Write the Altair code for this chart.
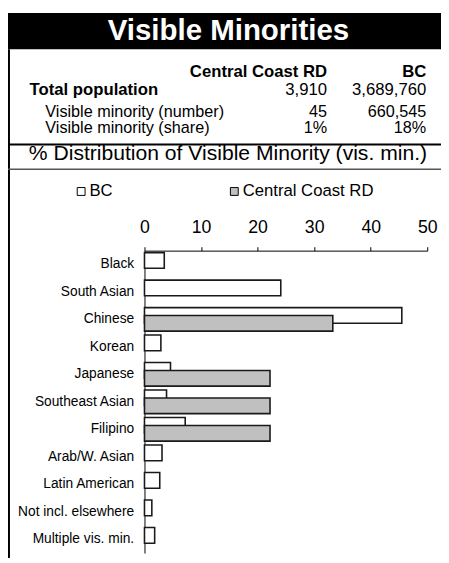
import altair as alt
import pandas as pd

FONT = "Liberation Sans"

# ---- data ----
title_text = "Visible Minorities"
section_title = "% Distribution of Visible Minority (vis. min.)"
col_headers = ["Central Coast RD", "BC"]
row_labels = ["Total population", "Visible minority (number)", "Visible minority (share)"]
cc_stats = ["3,910", "45", "1%"]
bc_stats = ["3,689,760", "660,545", "18%"]

categories = ["Black", "South Asian", "Chinese", "Korean", "Japanese", "Southeast Asian",
              "Filipino", "Arab/W. Asian", "Latin American", "Not incl. elsewhere",
              "Multiple vis. min."]
bc_pct = [3.5, 24.1, 45.5, 2.9, 4.6, 3.9, 7.2, 3.1, 2.7, 1.3, 1.8]
cc_pct = [0, 0, 33.3, 0, 22.2, 22.2, 22.2, 0, 0, 0, 0]
series = ["BC", "Central Coast RD"]
x_ticks = [0, 10, 20, 30, 40, 50]

rows = []
for c, b, k in zip(categories, bc_pct, cc_pct):
    rows.append({"category": c, "series": series[0], "pct": b})
    rows.append({"category": c, "series": series[1], "pct": k})
df = pd.DataFrame(rows)

# ---- layout (pixels relative to plot origin) ----
W, H = 288, 308
PAD = {"left": 139, "top": 242, "right": 14, "bottom": 5}
row_baselines = [-159, -136.5, -119.5]
row_left = [-117, -101, -101]
row_size = [17, 16.5, 16.5]
col_right = [186, 287]


def text_layer(value, x, y, align="left", size=17, weight="normal", color="black"):
    return alt.Chart(pd.DataFrame({"t": [value]})).mark_text(
        align=align, baseline="alphabetic", fontSize=size, fontWeight=weight,
        color=color, font=FONT
    ).encode(x=alt.value(x), y=alt.value(y), text="t:N")


def rule_layer(x, x2, y, y2, color="black", width=1.0):
    return alt.Chart(pd.DataFrame({"a": [0]})).mark_rule(
        color=color, strokeWidth=width
    ).encode(x=alt.value(x), x2=alt.value(x2), y=alt.value(y), y2=alt.value(y2))


header_bg = alt.Chart(pd.DataFrame({"a": [0]})).mark_rect(color="black").encode(
    x=alt.value(-139), x2=alt.value(302), y=alt.value(-242), y2=alt.value(-205)
)

layers = [header_bg,
          text_layer(title_text, 85.5, -215, align="center", size=30, weight="bold", color="white"),
          text_layer(col_headers[0], col_right[0], -177, align="right", weight="bold"),
          text_layer(col_headers[1], col_right[1], -177, align="right", weight="bold")]
for i, (lab, cc, bc) in enumerate(zip(row_labels, cc_stats, bc_stats)):
    layers.append(text_layer(lab, row_left[i], row_baselines[i], size=row_size[i],
                             weight="bold" if i == 0 else "normal"))
    layers.append(text_layer(cc, col_right[0], row_baselines[i], align="right", size=row_size[i]))
    layers.append(text_layer(bc, col_right[1], row_baselines[i], align="right", size=row_size[i]))

layers += [
    rule_layer(-138, -138, -205, 313, width=2),
    rule_layer(-139, 302, -108, -108, width=2),
    rule_layer(-139, 302, -83, -83, color="#555555", width=1.5),
    text_layer(section_title, 85, -92, align="center", size=21.5),
]

base = alt.Chart(df).encode(
    x=alt.X("pct:Q", scale=alt.Scale(domain=[0, 50], nice=False, zero=True),
            axis=alt.Axis(orient="top", values=x_ticks, title=None, grid=False,
                          labelFontSize=18, labelFont=FONT, labelColor="black",
                          labelBaseline="alphabetic", labelPadding=14,
                          tickSize=4, tickColor="black", domainColor="black",
                          labelFlush=False)),
    y=alt.Y("category:N", sort=categories,
            scale=alt.Scale(paddingInner=0, paddingOuter=0),
            axis=alt.Axis(title=None, ticks=False, labelFontSize=14, labelFont=FONT,
                          labelColor="black", labelPadding=11, labelLimit=300,
                          domainColor="black")),
    fill=alt.Fill("series:N",
                  scale=alt.Scale(domain=series, range=["white", "#c0c0c0"]),
                  legend=alt.Legend(title=None, orient="none", legendX=-73, legendY=-69,
                                    direction="horizontal", columns=2, columnPadding=115,
                                    symbolType="square", symbolSize=64,
                                    symbolStrokeColor="black", symbolStrokeWidth=1,
                                    labelFontSize=17, labelFont=FONT, labelColor="black",
                                    labelOffset=0, padding=0)),
)

bars_bc = base.transform_filter(alt.datum.series == series[0]).mark_bar(
    size=16, yOffset=-4, stroke="#1a1a1a", strokeWidth=1.6)
bars_cc = base.transform_filter(
    (alt.datum.series == series[1]) & (alt.datum.pct > 0)).mark_bar(
    size=16, yOffset=4, stroke="#1a1a1a", strokeWidth=1.6)

chart = alt.layer(*layers, bars_bc, bars_cc).properties(
    width=W, height=H, padding=PAD,
    autosize=alt.AutoSizeParams(type="none"),
    background="white",
).configure_view(stroke=None)

chart.save("out.html", embed_options={"renderer": "svg", "actions": False})
